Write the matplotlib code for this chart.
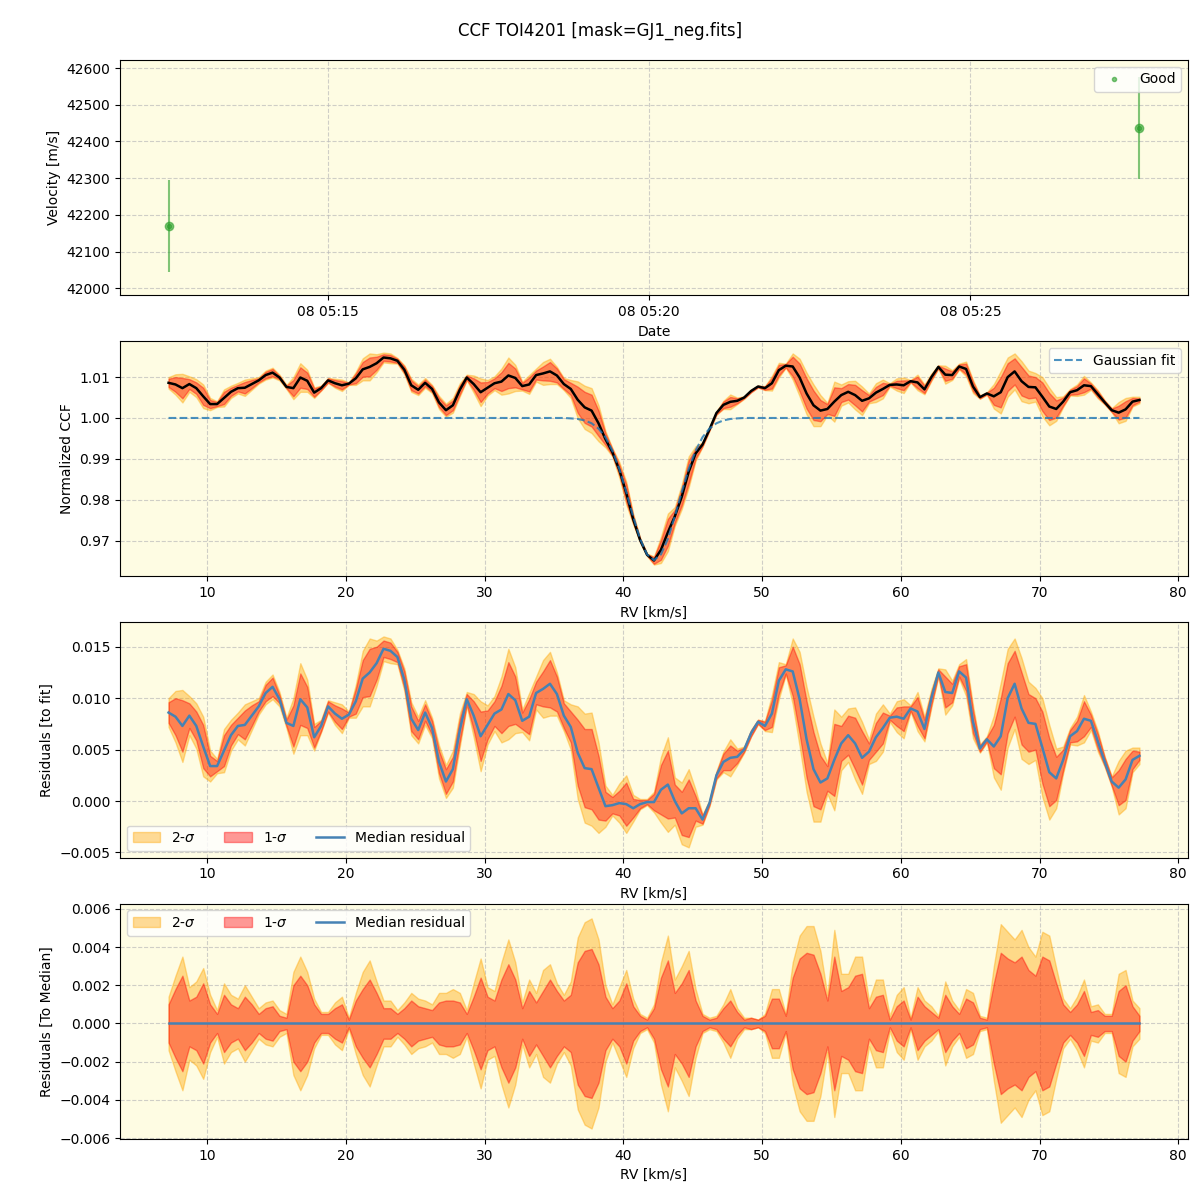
import numpy as np
import pandas as pd
import matplotlib
matplotlib.use("Agg")
import matplotlib.pyplot as plt

# --- velocity time series ---
obs_time = pd.to_datetime(["2022-01-08 05:12:31", "2022-01-08 05:27:38"])
obs_rv = [42170, 42437]
obs_err = [125, 138]

# --- CCF grid (km/s) ---
rv = np.arange(7.2, 77.21, 0.5)

# gaussian fit
fit = [1.0, 1.0, 1.0, 1.0, 1.0, 1.0, 1.0, 1.0, 1.0, 1.0,
       1.0, 1.0, 1.0, 1.0, 1.0, 1.0, 1.0, 1.0, 1.0, 1.0,
       1.0, 1.0, 1.0, 1.0, 1.0, 1.0, 1.0, 1.0, 1.0, 1.0,
       1.0, 1.0, 1.0, 1.0, 1.0, 1.0, 1.0, 1.0, 1.0, 1.0,
       1.0, 1.0, 1.0, 1.0, 1.0, 1.0, 1.0, 1.0, 1.0, 1.0,
       1.0, 1.0, 1.0, 1.0, 1.0, 1.0, 1.0, 1.0, 0.9999, 0.99975,
       0.9994, 0.9987, 0.9974, 0.9953, 0.9920, 0.9875, 0.9819, 0.9759, 0.9704, 0.9666,
       0.9652, 0.9666, 0.9704, 0.9759, 0.9819, 0.9875, 0.9920, 0.9953, 0.9974, 0.9987,
       0.9994, 0.99975, 0.9999, 1.0, 1.0, 1.0, 1.0, 1.0, 1.0, 1.0,
       1.0, 1.0, 1.0, 1.0, 1.0, 1.0, 1.0, 1.0, 1.0, 1.0,
       1.0, 1.0, 1.0, 1.0, 1.0, 1.0, 1.0, 1.0, 1.0, 1.0,
       1.0, 1.0, 1.0, 1.0, 1.0, 1.0, 1.0, 1.0, 1.0, 1.0,
       1.0, 1.0, 1.0, 1.0, 1.0, 1.0, 1.0, 1.0, 1.0, 1.0,
       1.0, 1.0, 1.0, 1.0, 1.0, 1.0, 1.0, 1.0, 1.0, 1.0,
       1.0]

# median residual (CCF - fit)
res_med = [0.0086, 0.0082, 0.0073, 0.0083, 0.0073, 0.0053, 0.0034, 0.0034, 0.0049, 0.0064,
           0.0073, 0.0074, 0.0083, 0.0092, 0.0105, 0.0111, 0.0099, 0.0076, 0.0073, 0.0099,
           0.0091, 0.0062, 0.0073, 0.0092, 0.0085, 0.0080, 0.0084, 0.0097, 0.0119, 0.0125,
           0.0134, 0.0148, 0.0146, 0.0140, 0.0118, 0.0080, 0.0069, 0.0086, 0.0071, 0.0038,
           0.0019, 0.0031, 0.0069, 0.0099, 0.0083, 0.0063, 0.0074, 0.0085, 0.0089, 0.0104,
           0.0098, 0.0078, 0.0082, 0.0105, 0.0109, 0.0114, 0.0104, 0.0083, 0.0072, 0.0047,
           0.0032, 0.0031, 0.0013, -0.0005, -0.0004, -0.0002, -0.0003, -0.0007, -0.0003, -0.0001,
           -0.0001, 0.0011, 0.0016, 0.0000, -0.0012, -0.0007, -0.0007, -0.0018, -0.0002, 0.0025,
           0.0038, 0.0042, 0.0043, 0.0050, 0.0066, 0.0077, 0.0073, 0.0085, 0.0117, 0.0128,
           0.0126, 0.0099, 0.0060, 0.0031, 0.0018, 0.0022, 0.0040, 0.0056, 0.0064, 0.0056,
           0.0042, 0.0048, 0.0062, 0.0071, 0.0081, 0.0082, 0.0080, 0.0090, 0.0087, 0.0070,
           0.0100, 0.0125, 0.0106, 0.0105, 0.0126, 0.0120, 0.0077, 0.0051, 0.0060, 0.0053,
           0.0063, 0.0100, 0.0114, 0.0090, 0.0076, 0.0075, 0.0052, 0.0028, 0.0022, 0.0040,
           0.0063, 0.0068, 0.0080, 0.0078, 0.0058, 0.0038, 0.0019, 0.0013, 0.0021, 0.0040,
           0.0044]

# half widths of the 1-sigma and 2-sigma bands
sig1 = [0.0010, 0.0018, 0.0025, 0.0012, 0.0014, 0.0021, 0.0010, 0.0005, 0.0015, 0.0010,
        0.0008, 0.0014, 0.0010, 0.0005, 0.0008, 0.0009, 0.0004, 0.0003, 0.0020, 0.0025,
        0.0020, 0.0010, 0.0005, 0.0005, 0.0008, 0.0010, 0.0002, 0.0012, 0.0018, 0.0023,
        0.0016, 0.0008, 0.0008, 0.0005, 0.0008, 0.0012, 0.0009, 0.0008, 0.0007, 0.0011,
        0.0012, 0.0012, 0.0011, 0.0005, 0.0014, 0.0024, 0.0014, 0.0012, 0.0023, 0.0031,
        0.0023, 0.0008, 0.0017, 0.0011, 0.0017, 0.0023, 0.0017, 0.0012, 0.0015, 0.0032,
        0.0038, 0.0039, 0.0031, 0.0014, 0.0008, 0.0012, 0.0021, 0.0009, 0.0004, 0.0002,
        0.0008, 0.0024, 0.0033, 0.0016, 0.0021, 0.0028, 0.0012, 0.0004, 0.0002, 0.0003,
        0.0008, 0.0012, 0.0006, 0.0002, 0.0003, 0.0002, 0.0004, 0.0013, 0.0013, 0.0004,
        0.0024, 0.0034, 0.0037, 0.0036, 0.0026, 0.0012, 0.0035, 0.0017, 0.0019, 0.0025,
        0.0026, 0.0008, 0.0014, 0.0015, 0.0002, 0.0009, 0.0012, 0.0002, 0.0014, 0.0009,
        0.0006, 0.0003, 0.0015, 0.0009, 0.0005, 0.0013, 0.0011, 0.0003, 0.0002, 0.0021,
        0.0037, 0.0034, 0.0032, 0.0035, 0.0028, 0.0025, 0.0035, 0.0033, 0.0021, 0.0010,
        0.0006, 0.0010, 0.0017, 0.0006, 0.0007, 0.0004, 0.0004, 0.0017, 0.0020, 0.0009,
        0.0004]
sig2 = [0.0014, 0.0025, 0.0035, 0.0019, 0.0022, 0.0029, 0.0015, 0.0007, 0.0021, 0.0015,
        0.0013, 0.0020, 0.0014, 0.0008, 0.0011, 0.0012, 0.0007, 0.0005, 0.0027, 0.0035,
        0.0027, 0.0013, 0.0006, 0.0006, 0.0011, 0.0014, 0.0003, 0.0016, 0.0027, 0.0033,
        0.0022, 0.0012, 0.0012, 0.0007, 0.0011, 0.0016, 0.0013, 0.0012, 0.0010, 0.0016,
        0.0016, 0.0018, 0.0016, 0.0007, 0.0021, 0.0034, 0.0019, 0.0017, 0.0032, 0.0044,
        0.0032, 0.0011, 0.0023, 0.0016, 0.0028, 0.0031, 0.0021, 0.0015, 0.0022, 0.0045,
        0.0053, 0.0055, 0.0044, 0.0020, 0.0010, 0.0019, 0.0028, 0.0013, 0.0005, 0.0003,
        0.0010, 0.0032, 0.0046, 0.0023, 0.0030, 0.0038, 0.0018, 0.0005, 0.0003, 0.0004,
        0.0010, 0.0018, 0.0008, 0.0003, 0.0003, 0.0002, 0.0005, 0.0018, 0.0018, 0.0005,
        0.0032, 0.0046, 0.0051, 0.0051, 0.0038, 0.0015, 0.0049, 0.0026, 0.0026, 0.0035,
        0.0035, 0.0012, 0.0023, 0.0023, 0.0004, 0.0015, 0.0019, 0.0003, 0.0019, 0.0012,
        0.0009, 0.0004, 0.0022, 0.0012, 0.0007, 0.0018, 0.0016, 0.0004, 0.0003, 0.0030,
        0.0052, 0.0048, 0.0044, 0.0049, 0.0040, 0.0035, 0.0048, 0.0046, 0.0029, 0.0013,
        0.0008, 0.0014, 0.0023, 0.0009, 0.0010, 0.0005, 0.0005, 0.0026, 0.0028, 0.0012,
        0.0008]

fit = np.array(fit)
res_med = np.array(res_med)
sig1 = np.array(sig1)
sig2 = np.array(sig2)
ccf_med = fit + res_med

bg = '#fefce3'
c2 = 'orange'
c1 = 'red'
cline = 'steelblue'

fig, axs = plt.subplots(4, 1, figsize=(12, 12), dpi=100)
fig.subplots_adjust(left=0.1, right=0.99, top=0.95, bottom=0.051, hspace=0.195)
fig.suptitle("CCF TOI4201 [mask=GJ1_neg.fits]", fontsize=12, y=0.982)

for ax in axs:
    ax.set_facecolor(bg)
    ax.grid(True, linestyle='--', color='#bbbbbb', alpha=0.7)
    ax.set_axisbelow(True)

# panel 1: velocities
ax = axs[0]
ax.errorbar(obs_time, obs_rv, yerr=obs_err, fmt='o', color='tab:green', alpha=0.6, ms=6)
ax.plot(obs_time, obs_rv, '.', color='tab:green', alpha=0.6, label='Good', ls='none')
ax.set_ylim(41981, 42622)
ax.set_xlabel("Date")
ax.set_ylabel("Velocity [m/s]")
ax.legend(loc='upper right')

# panel 2: CCF
ax = axs[1]
ax.fill_between(rv, ccf_med - sig2, ccf_med + sig2, color=c2, alpha=0.4)
ax.fill_between(rv, ccf_med - sig1, ccf_med + sig1, color=c1, alpha=0.4)
ax.plot(rv, ccf_med, color='k', lw=1.8)
ax.plot(rv, fit, '--', color='tab:blue', alpha=0.8, lw=1.5, label='Gaussian fit')
ax.set_ylim(0.9612, 1.0188)
ax.set_xlabel("RV [km/s]")
ax.set_ylabel("Normalized CCF")
ax.legend(loc='upper right')

# panel 3: residuals to fit
ax = axs[2]
ax.fill_between(rv, res_med - sig2, res_med + sig2, color=c2, alpha=0.4, label=r'2-$\sigma$')
ax.fill_between(rv, res_med - sig1, res_med + sig1, color=c1, alpha=0.4, label=r'1-$\sigma$')
ax.plot(rv, res_med, color=cline, lw=1.8, label='Median residual')
ax.set_ylim(-0.0055, 0.01737)
ax.set_xlabel("RV [km/s]")
ax.set_ylabel("Residuals [to fit]")
ax.legend(loc='lower left', ncol=3)

# panel 4: residuals to median
ax = axs[3]
zero = res_med - res_med
ax.fill_between(rv, zero - sig2, zero + sig2, color=c2, alpha=0.4, label=r'2-$\sigma$')
ax.fill_between(rv, zero - sig1, zero + sig1, color=c1, alpha=0.4, label=r'1-$\sigma$')
ax.plot(rv, zero, color=cline, lw=1.8, label='Median residual')
ax.set_ylim(-0.00604, 0.00628)
ax.set_xlabel("RV [km/s]")
ax.set_ylabel("Residuals [To Median]")
ax.legend(loc='upper left', ncol=3)

plt.savefig("out.png", dpi=100)
